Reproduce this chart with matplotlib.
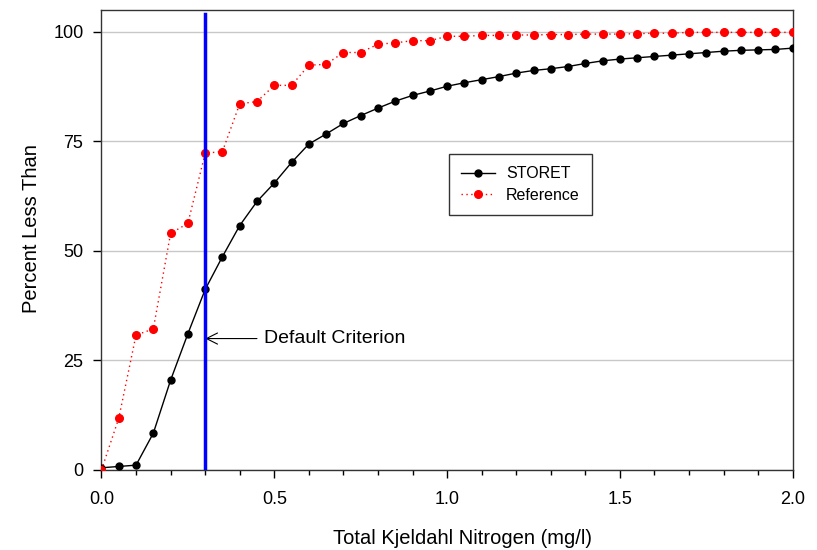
import numpy as np
import matplotlib
matplotlib.use('Agg')
import matplotlib.pyplot as plt
from matplotlib.ticker import MultipleLocator, FormatStrFormatter

plt.rcParams['font.family'] = ['Liberation Sans', 'DejaVu Sans']

# TKN concentration steps (mg/l)
tkn = [0.00, 0.05, 0.10, 0.15, 0.20, 0.25, 0.30, 0.35, 0.40, 0.45,
       0.50, 0.55, 0.60, 0.65, 0.70, 0.75, 0.80, 0.85, 0.90, 0.95,
       1.00, 1.05, 1.10, 1.15, 1.20, 1.25, 1.30, 1.35, 1.40, 1.45,
       1.50, 1.55, 1.60, 1.65, 1.70, 1.75, 1.80, 1.85, 1.90, 1.95, 2.00]

storet_pct = [0.5, 0.8, 1.1, 8.4, 20.5, 31.1, 41.2, 48.7, 55.8, 61.3,
              65.5, 70.2, 74.4, 76.7, 79.1, 80.9, 82.6, 84.2, 85.5, 86.5,
              87.6, 88.4, 89.1, 89.8, 90.6, 91.2, 91.6, 92.1, 92.8, 93.4,
              93.8, 94.1, 94.4, 94.7, 95.0, 95.3, 95.6, 95.8, 95.9, 96.0, 96.3]

reference_pct = [0.0, 11.8, 30.8, 32.2, 54.0, 56.3, 72.3, 72.7, 83.6, 84.1,
                 87.8, 87.8, 92.4, 92.6, 95.3, 95.3, 97.2, 97.5, 98.0, 98.0,
                 99.0, 99.0, 99.2, 99.2, 99.3, 99.3, 99.4, 99.4, 99.5, 99.5,
                 99.5, 99.6, 99.7, 99.7, 99.9, 99.9, 99.9, 99.9, 99.9, 99.9, 99.9]

criterion = 0.3
yticks = [0, 25, 50, 75, 100]

fig = plt.figure(figsize=(8.17, 5.5), dpi=100)
ax = fig.add_axes([0.1242, 0.1455, 0.8461, 0.8363])

ax.grid(axis='y', color='#c8c8c8', linewidth=1.0, zorder=0)
ax.set_axisbelow(True)

ax.plot(tkn, storet_pct, color='black', linewidth=1.0, marker='o',
        markersize=5, label='STORET', zorder=3)
ax.plot(tkn, reference_pct, color='red', linewidth=1.0, linestyle=(0, (1, 2.5)),
        marker='o', markersize=5.5, label='Reference', zorder=4)

# vertical criterion line
ax.plot([criterion, criterion], [0, 104], color='blue', linewidth=2.5, zorder=5)

ax.annotate('Default Criterion', xy=(criterion, 30), xytext=(0.47, 30),
            fontsize=14, va='center', ha='left',
            arrowprops=dict(arrowstyle='->', color='black', lw=0.8,
                            shrinkA=3, shrinkB=0, mutation_scale=20))

ax.set_xlim(0, 2.0)
ax.set_ylim(0, 105)
ax.xaxis.set_major_locator(MultipleLocator(0.5))
ax.xaxis.set_minor_locator(MultipleLocator(0.1))
ax.set_yticks(yticks)
ax.xaxis.set_major_formatter(FormatStrFormatter('%.1f'))

ax.tick_params(axis='both', which='major', direction='out', length=6, width=1,
               labelsize=13)
ax.tick_params(axis='y', which='major', pad=7)
ax.tick_params(axis='x', which='major', pad=9)
ax.tick_params(axis='x', which='minor', direction='out', length=3.5, width=1)
for sp in ax.spines.values():
    sp.set_color('#333333')
    sp.set_linewidth(1.0)

ax.set_xlabel('Total Kjeldahl Nitrogen (mg/l)', fontsize=14.5)
ax.set_ylabel('Percent Less Than', fontsize=14.5)
ax.xaxis.set_label_coords(0.522, -0.128)
ax.yaxis.set_label_coords(-0.088, 0.524)

leg = ax.legend(loc='upper left', bbox_to_anchor=(0.503, 0.686), fontsize=11.5,
                frameon=True, fancybox=False, edgecolor='black',
                handlelength=2.1, borderpad=0.75, labelspacing=0.4,
                borderaxespad=0, handletextpad=0.7)
leg.get_frame().set_linewidth(1.0)

fig.savefig('out.png', dpi=100)
